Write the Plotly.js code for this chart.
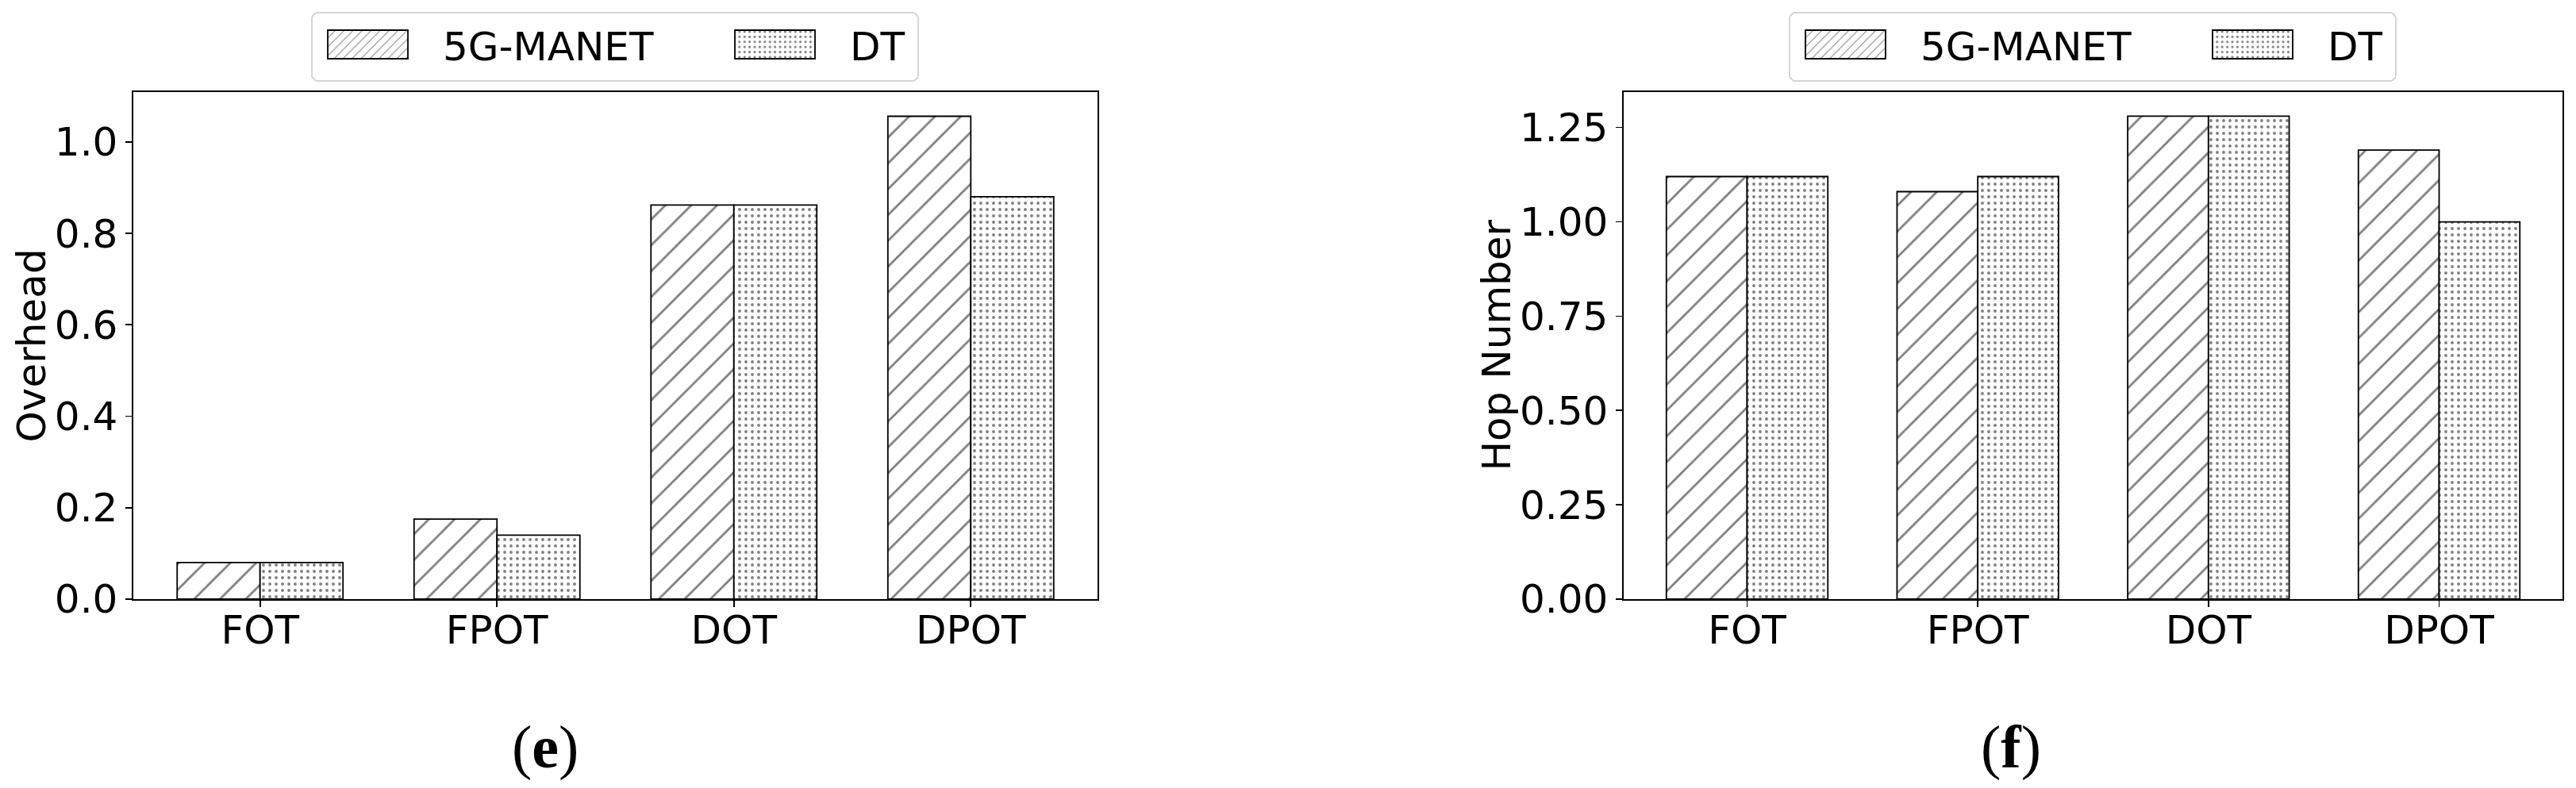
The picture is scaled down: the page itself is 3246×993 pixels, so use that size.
<!DOCTYPE html>
<html>
<head>
<meta charset="utf-8">
<script src="https://cdn.plot.ly/plotly-3.0.1.min.js"></script>
<style>
  body { margin: 0; background: #fff; }
  #wrap { width: 3246px; height: 993px; display: flex; }
  #div_left, #div_right { width: 1623px; height: 993px; }
</style>
</head>
<body>
<div id="wrap"><div id="div_left"></div><div id="div_right"></div></div>
<script>
var categories = ['FOT', 'FPOT', 'DOT', 'DPOT']
var series_names = ['5G-MANET', 'DT']
var overhead_5g = [0.08, 0.175, 0.862, 1.056]
var overhead_dt = [0.08, 0.14, 0.862, 0.88]
var hop_5g = [1.12, 1.08, 1.28, 1.19]
var hop_dt = [1.12, 1.12, 1.28, 1.00]
var y_ticks_left = [0, 0.2, 0.4, 0.6, 0.8, 1.0]
var y_ticks_right = [0, 0.25, 0.5, 0.75, 1.0, 1.25]
var y_titles = ['Overhead', 'Hop Number']
var captions = ['(<b>e</b>)', '(<b>f</b>)']

var font_tick = {family: 'DejaVu Sans', size: 50, color: '#000'}
var font_caption = {family: 'Liberation Serif', size: 76, color: '#000'}
var hatch_5g = {shape: '/', size: 23, solidity: 0.12, fgcolor: '#000', bgcolor: '#fff', fillmode: 'overlay'}
var hatch_dt = {shape: '.', size: 8, solidity: 0.18, fgcolor: '#000', bgcolor: '#fff', fillmode: 'overlay'}

function bar_trace(y, name, pattern){
  return {
    type: 'bar',
    x: categories,
    y: y,
    name: name,
    marker: {color: '#fff', pattern: pattern, line: {color: '#000', width: 1.8}},
    hoverinfo: 'skip'
  }
}

function axis_common(){
  return {
    showline: true,
    mirror: true,
    linecolor: '#000',
    linewidth: 1.6,
    ticks: 'outside',
    ticklen: 8,
    tickwidth: 1.6,
    tickcolor: '#000',
    showgrid: false,
    zeroline: false,
    tickfont: font_tick
  }
}

// matplotlib style legend: wide patches, fixed box, rounded corners
var legend_text_x = [166, 679]
function restyle_legend(div, left){
  var lg = document.querySelector('#' + div + ' .infolayer g.legend')
  if (!lg) return
  lg.setAttribute('transform', 'translate(' + left + ',15)')
  var bg = lg.querySelector('rect.bg')
  if (bg) {
    bg.setAttribute('x', 1); bg.setAttribute('y', 1)
    bg.setAttribute('width', 764); bg.setAttribute('height', 86)
    bg.setAttribute('rx', 8); bg.setAttribute('ry', 8)
  }
  var sb = lg.querySelector('g.scrollbox')
  if (sb) { sb.setAttribute('transform', 'translate(0,0)'); sb.removeAttribute('clip-path') }
  var groups = lg.querySelectorAll('g.traces')
  for (var i = 0; i < groups.length && i < 2; i++) {
    var txt = groups[i].querySelector('text.legendtext')
    if (!txt) continue
    var tx = parseFloat(txt.getAttribute('x'))
    groups[i].setAttribute('transform', 'translate(' + (legend_text_x[i] - tx) + ',41)')
    var paths = groups[i].querySelectorAll('g.legendpoints path')
    for (var k = 0; k < paths.length; k++) {
      paths[k].removeAttribute('transform')
      paths[k].setAttribute('d', 'M' + (tx - 145) + ',-18H' + (tx - 44) + 'V18H' + (tx - 145) + 'Z')
    }
  }
}

function make_chart(div, s1, s2, yrange, yticks, fmt, xdom, ytitle, ytitle_x, caption, caption_x, legend_x, legend_left){
  var data = [bar_trace(s1, series_names[0], hatch_5g), bar_trace(s2, series_names[1], hatch_dt)]
  var xaxis = axis_common()
  xaxis.domain = xdom
  xaxis.type = 'category'
  xaxis.range = [-0.535, 3.535]
  xaxis.ticklabelstandoff = -14
  var yaxis = axis_common()
  yaxis.domain = [0.2397, 0.8832]
  yaxis.range = yrange
  yaxis.tickvals = yticks
  yaxis.tickformat = fmt
  var layout = {
    width: 1623,
    height: 993,
    margin: {l: 0, r: 0, t: 0, b: 0},
    paper_bgcolor: '#fff',
    plot_bgcolor: '#fff',
    barmode: 'group',
    bargap: 0.3,
    bargroupgap: 0,
    xaxis: xaxis,
    yaxis: yaxis,
    legend: {
      orientation: 'h',
      x: legend_x,
      xanchor: 'center',
      y: 0.9849,
      yanchor: 'top',
      font: font_tick,
      bgcolor: '#fff',
      bordercolor: '#d6d6d6',
      borderwidth: 2,
      traceorder: 'normal'
    },
    annotations: [
      {text: ytitle, x: ytitle_x, y: 0.5614, xref: 'paper', yref: 'paper', xanchor: 'center', yanchor: 'middle', showarrow: false, textangle: -90, font: font_tick},
      {text: caption, x: caption_x, y: 0.0514, xref: 'paper', yref: 'paper', xanchor: 'center', yanchor: 'middle', showarrow: false, font: font_caption}
    ]
  }
  var gd = document.getElementById(div)
  Plotly.newPlot(gd, data, layout, {staticPlot: true}).then(function(){
    restyle_legend(div, legend_left)
  })
  gd.on('plotly_afterplot', function(){ restyle_legend(div, legend_left) })
}

make_chart('div_left', overhead_5g, overhead_dt, [0, 1.109], y_ticks_left, '.1f',
  [0.10351, 0.85213], y_titles[0], 0.02465, captions[0], 0.42329, 0.47751, 392)
make_chart('div_right', hop_5g, hop_dt, [0, 1.344], y_ticks_right, '.2f',
  [0.26063, 0.98953], y_titles[1], 0.16205, captions[1], 0.56131, 0.62446, 631)
</script>
</body>
</html>
